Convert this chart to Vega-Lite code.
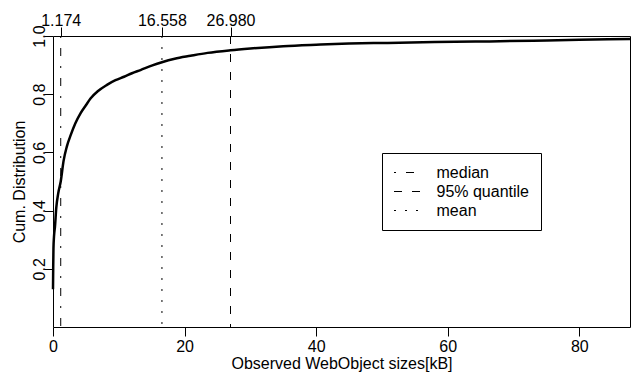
{
  "$schema": "https://vega.github.io/schema/vega-lite/v6.json",
  "width": 577,
  "height": 291,
  "autosize": {"type": "none"},
  "padding": {"left": 53, "top": 36, "right": 7, "bottom": 45},
  "background": "white",
  "config": {
    "font": "Liberation Sans",
    "view": {"stroke": "black", "strokeWidth": 1},
    "axis": {
      "grid": false,
      "domain": false,
      "tickColor": "black",
      "tickSize": 9,
      "tickWidth": 1,
      "labelColor": "black",
      "labelFontSize": 16,
      "labelFont": "Liberation Sans",
      "titleColor": "black",
      "titleFontSize": 16,
      "titleFont": "Liberation Sans",
      "titleFontWeight": "normal",
      "labelFlush": false,
      "labelOverlap": false
    }
  },
  "layer": [
    {
      "data": {
        "values": [
          {"size": 0.0, "cdf": 0.13},
          {"size": 0.03, "cdf": 0.2},
          {"size": 0.07, "cdf": 0.27},
          {"size": 0.15, "cdf": 0.31},
          {"size": 0.3, "cdf": 0.345},
          {"size": 0.5, "cdf": 0.41},
          {"size": 0.8, "cdf": 0.46},
          {"size": 1.174, "cdf": 0.5},
          {"size": 1.6, "cdf": 0.57},
          {"size": 2.1, "cdf": 0.62},
          {"size": 2.7, "cdf": 0.66},
          {"size": 3.4, "cdf": 0.7},
          {"size": 4.2, "cdf": 0.735},
          {"size": 5.0, "cdf": 0.762},
          {"size": 5.7, "cdf": 0.785},
          {"size": 6.8, "cdf": 0.81},
          {"size": 8.2, "cdf": 0.832},
          {"size": 9.5, "cdf": 0.848},
          {"size": 10.8, "cdf": 0.86},
          {"size": 12.0, "cdf": 0.872},
          {"size": 13.3, "cdf": 0.883},
          {"size": 15.0, "cdf": 0.898},
          {"size": 16.558, "cdf": 0.91},
          {"size": 18.5, "cdf": 0.922},
          {"size": 20.9, "cdf": 0.932},
          {"size": 23.5, "cdf": 0.942},
          {"size": 26.98, "cdf": 0.951},
          {"size": 30, "cdf": 0.957},
          {"size": 35, "cdf": 0.965},
          {"size": 40, "cdf": 0.97},
          {"size": 45, "cdf": 0.974},
          {"size": 50, "cdf": 0.976},
          {"size": 58, "cdf": 0.979},
          {"size": 65, "cdf": 0.981},
          {"size": 73, "cdf": 0.984},
          {"size": 80, "cdf": 0.987},
          {"size": 87.7, "cdf": 0.99}
        ]
      },
      "mark": {"type": "line", "color": "black", "strokeWidth": 2.5, "interpolate": "monotone"},
      "encoding": {
        "x": {
          "field": "size",
          "type": "quantitative",
          "scale": {"domain": [0, 87.7], "nice": false, "zero": false},
          "axis": {
            "orient": "bottom",
            "values": [0, 20, 40, 60, 80],
            "title": "Observed WebObject sizes[kB]",
            "labelPadding": 2,
            "titlePadding": 1
          }
        },
        "y": {
          "field": "cdf",
          "type": "quantitative",
          "scale": {"domain": [0, 1], "nice": false},
          "axis": {
            "orient": "left",
            "values": [0.2, 0.4, 0.6, 0.8, 1.0],
            "format": ".1f",
            "labelAngle": 270,
            "labelAlign": "center",
            "labelBaseline": "alphabetic",
            "labelPadding": 0,
            "title": "Cum. Distribution",
            "titlePadding": 4
          }
        }
      }
    },
    {
      "data": {
        "values": [
          {"stat": "median", "value": 1.174},
          {"stat": "95% quantile", "value": 26.98},
          {"stat": "mean", "value": 16.558}
        ]
      },
      "mark": {"type": "rule", "color": "black", "strokeWidth": 1},
      "encoding": {
        "x": {
          "field": "value",
          "type": "quantitative",
          "axis": {
            "orient": "top",
            "values": [1.174, 16.558, 26.98],
            "format": ".3f",
            "title": null,
            "labelBaseline": "alphabetic",
            "labelPadding": 2
          }
        },
        "strokeDash": {
          "field": "stat",
          "type": "nominal",
          "scale": {
            "domain": ["median", "95% quantile", "mean"],
            "range": [[2, 10, 8, 10], [8, 10], [2, 9]]
          },
          "legend": {
            "orient": "none",
            "legendX": 329,
            "legendY": 117,
            "title": null,
            "symbolType": "stroke",
            "symbolSize": 676,
            "symbolStrokeColor": "black",
            "symbolStrokeWidth": 1,
            "labelFontSize": 16,
            "labelFont": "Liberation Sans",
            "labelColor": "black",
            "labelOffset": 16,
            "clipHeight": 16,
            "rowPadding": 3,
            "padding": 11.5,
            "strokeColor": "black",
            "fillColor": "white",
            "cornerRadius": 0
          }
        }
      }
    }
  ]
}
